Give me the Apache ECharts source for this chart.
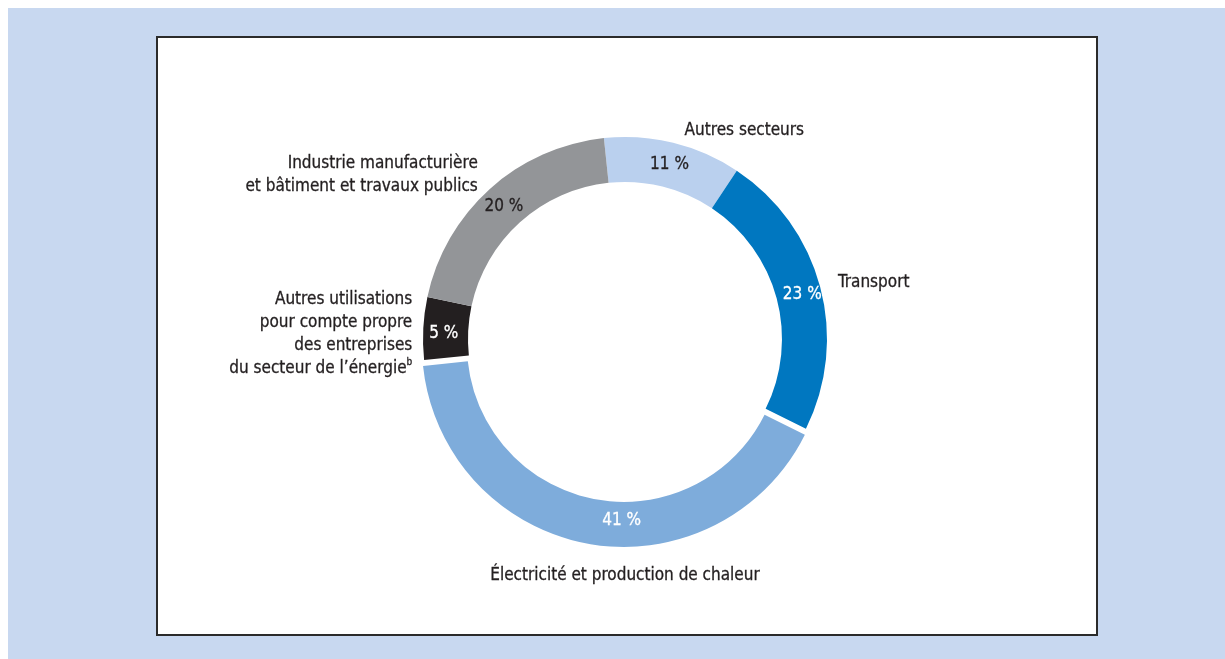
<!DOCTYPE html>
<html>
<head>
<meta charset="utf-8">
<title>Émissions par secteur</title>
<script src="https://cdn.jsdelivr.net/npm/echarts@6/dist/echarts.min.js"></script>
<style>
  html, body { margin: 0; padding: 0; background: #fff; }
  #chart { width: 1225px; height: 659px; }
</style>
</head>
<body>
<div id="chart"></div>
<script>
// secteurs, dans le sens des aiguilles d'une montre depuis le haut
const categories = [
  'Autres secteurs',
  'Transport',
  'Électricité et production de chaleur',
  'Autres utilisations pour compte propre des entreprises du secteur de l’énergie',
  'Industrie manufacturière et bâtiment et travaux publics'
];
const shares = [11, 23, 41, 5, 20];
const colors = ['#bad0ee', '#0077c0', '#7eacdb', '#231f20', '#939598'];
const pctColors = ['#231f20', '#fff', '#fff', '#fff', '#231f20'];
// libellés extérieurs (retours à la ligne comme dans l'original)
const outerLabels = [
  'Autres secteurs',
  'Transport',
  'Électricité et production de chaleur',
  'Autres utilisations\npour compte propre\ndes entreprises\ndu secteur de l’énergie{sup|b}',
  'Industrie manufacturière\net bâtiment et travaux publics'
];

const FONT = '"DejaVu Sans Condensed", "Liberation Sans Narrow", "Arial Narrow", sans-serif';
const CX = 625, CY = 339;
const chart = echarts.init(document.getElementById('chart'));

const base = {
  type: 'pie',
  center: [CX, CY],
  radius: [157, 202],
  startAngle: 96,
  clockwise: true,
  avoidLabelOverlap: false,
  animation: false
};

// décalages fins des libellés extérieurs (texte seulement)
const outerShift = [
  { dx: 10, dy: -6 },
  { dx: 12, dy: -3 },
  null,
  { dx: -5, dy: 6 },
  { dx: -8, dy: -9 }
];

chart.setOption({
  backgroundColor: '#fff',
  graphic: [
    { type: 'rect', z: -10, shape: { x: 8, y: 8, width: 1217, height: 651 }, style: { fill: '#c8d8f0' } },
    { type: 'rect', z: -9, shape: { x: 157, y: 37, width: 940, height: 598 }, style: { fill: '#fff', stroke: '#2b2b2b', lineWidth: 2 } }
  ],
  series: [
    {
      ...base,
      name: 'anneau',
      selectedMode: 'single',
      selectedOffset: 6,
      label: {
        position: 'inside',
        fontFamily: FONT,
        fontSize: 17,
        textBorderWidth: 0.3,
        formatter: p => p.value + ' %'
      },
      labelLine: { show: false },
      // le libellé 41 % est centré sous l'anneau dans l'original
      labelLayout: p => (p.dataIndex === 2
        ? { hideOverlap: false, dx: 30, dy: -4 }
        : { hideOverlap: false, dx: 1, dy: p.dataIndex === 3 ? 4 : 3 }),
      data: categories.map((c, i) => ({
        name: c,
        value: shares[i],
        selected: i === 2,
        itemStyle: { color: colors[i] },
        label: { color: pctColors[i], textBorderColor: pctColors[i] }
      }))
    },
    {
      ...base,
      name: 'libellés',
      silent: true,
      label: {
        position: 'outside',
        fontFamily: FONT,
        fontSize: 17,
        color: '#231f20',
        textBorderColor: '#231f20',
        textBorderWidth: 0.3,
        lineHeight: 23,
        distanceToLabelLine: 0,
        rich: {
          sup: { fontFamily: FONT, fontSize: 10, verticalAlign: 'top', color: '#231f20', padding: [0, 0, 8, 0] }
        },
        formatter: p => outerLabels[p.dataIndex]
      },
      labelLine: { show: false, length: 6, length2: 0 },
      labelLayout: p => {
        if (p.dataIndex === 2) {
          return { hideOverlap: false, x: CX, y: 576, align: 'center', verticalAlign: 'middle' };
        }
        return { hideOverlap: false, ...outerShift[p.dataIndex] };
      },
      itemStyle: { color: 'rgba(0,0,0,0)' },
      data: categories.map((c, i) => ({ name: c, value: shares[i] }))
    }
  ]
});
</script>
</body>
</html>
